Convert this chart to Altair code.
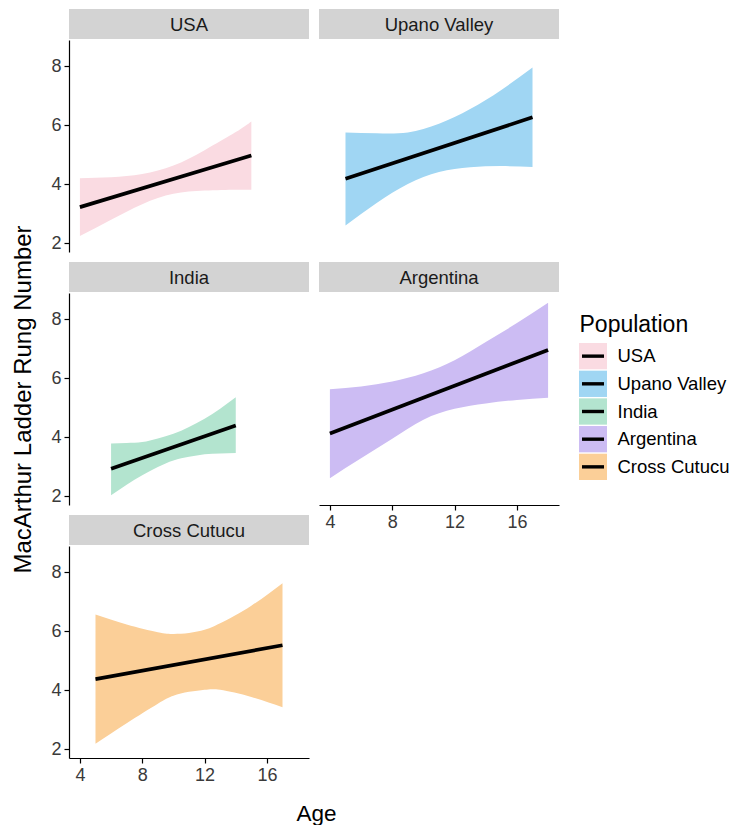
import altair as alt
import pandas as pd

populations = ["USA", "Upano Valley", "India", "Argentina", "Cross Cutucu"]
fill_colors = ["#fadbe2", "#a0d6f3", "#b3e4cf", "#ccbcf3", "#fbcf98"]

# confidence ribbons
usa_age = [4, 6, 8, 10, 12, 14, 15]
usa_lower = [2.25, 2.80, 3.33, 3.68, 3.79, 3.82, 3.82]
usa_upper = [4.21, 4.24, 4.35, 4.64, 5.16, 5.77, 6.13]

upano_age = [5, 7, 9, 11, 13, 15, 17]
upano_lower = [2.61, 3.37, 4.01, 4.42, 4.58, 4.62, 4.59]
upano_upper = [5.76, 5.73, 5.76, 6.05, 6.55, 7.20, 7.96]

india_age = [6, 7, 8, 9, 10, 11, 12, 13, 14]
india_lower = [2.04, 2.40, 2.72, 3.00, 3.22, 3.34, 3.43, 3.45, 3.47]
india_upper = [3.79, 3.81, 3.84, 3.96, 4.12, 4.35, 4.63, 4.97, 5.36]

argentina_age = [4, 6, 8, 10, 12, 14, 16, 18]
argentina_lower = [2.62, 3.29, 3.95, 4.60, 4.97, 5.15, 5.27, 5.34]
argentina_upper = [5.63, 5.72, 5.89, 6.17, 6.61, 7.23, 7.87, 8.56]

cutucu_age = [5, 7, 9, 10, 11, 12, 13, 15, 17]
cutucu_lower = [2.19, 2.89, 3.55, 3.82, 3.95, 4.02, 4.02, 3.78, 3.43]
cutucu_upper = [6.57, 6.23, 5.97, 5.91, 5.94, 6.05, 6.27, 6.87, 7.63]

# fitted lines (start / end)
line_age_start = [4, 5, 6, 4, 5]
line_age_end = [15, 17, 14, 18, 17]
line_fit_start = [3.23, 4.19, 2.94, 4.13, 4.38]
line_fit_end = [4.98, 6.27, 4.40, 6.96, 5.53]

x_ticks = [4, 8, 12, 16]
y_ticks = [2, 4, 6, 8]

FONT = "Liberation Sans"

bands = {
    "USA": (usa_age, usa_lower, usa_upper),
    "Upano Valley": (upano_age, upano_lower, upano_upper),
    "India": (india_age, india_lower, india_upper),
    "Argentina": (argentina_age, argentina_lower, argentina_upper),
    "Cross Cutucu": (cutucu_age, cutucu_lower, cutucu_upper),
}
band_rows = []
for pop, (ages, lo, up) in bands.items():
    for a, l, u in zip(ages, lo, up):
        band_rows.append({"Population": pop, "Age": a, "Lower": l, "Upper": u})
band_df = pd.DataFrame(band_rows)

line_rows = []
for i, pop in enumerate(populations):
    line_rows.append({"Population": pop, "Age": line_age_start[i], "Fit": line_fit_start[i]})
    line_rows.append({"Population": pop, "Age": line_age_end[i], "Fit": line_fit_end[i]})
line_df = pd.DataFrame(line_rows)

W = 240          # panel width
STRIP = 30       # strip height
PLOT_TOP = 31    # plot area starts below the strip
PANEL_H = 243    # strip + plot height

xscale = alt.Scale(domain=[3.3, 18.7], nice=False, zero=False)
yscale = alt.Scale(domain=[1.71, 8.89], nice=False, zero=False, range=[PANEL_H, PLOT_TOP])
color_scale = alt.Scale(domain=populations, range=fill_colors)

axis_common = dict(
    grid=False, domainColor="black", domainWidth=1.2, tickColor="black",
    tickWidth=1.2, tickSize=5, labelFontSize=18, labelColor="#3a3a3a",
    labelPadding=3, labelFlush=False, labelFont=FONT,
)


def make_xaxis(show, title=False):
    if not show:
        return None
    if title:
        return alt.Axis(values=x_ticks, title="Age", titleFontSize=22.5,
                        titleFontWeight="normal", titleColor="black", titleFont=FONT,
                        titleX=247, titleY=62, titleBaseline="alphabetic",
                        titleAlign="center", **axis_common)
    return alt.Axis(values=x_ticks, title=None, **axis_common)


def make_yaxis(show, title=False):
    if not show:
        return None
    if title:
        return alt.Axis(values=y_ticks, title="MacArthur Ladder Rung Number",
                        titleFontSize=24, titleFontWeight="normal", titleColor="black",
                        titleFont=FONT, titlePadding=15, **axis_common)
    return alt.Axis(values=y_ticks, title=None, **axis_common)


def panel(name, show_y, show_x, ytitle=False, xtitle=False):
    xa = make_xaxis(show_x, xtitle)
    ya = make_yaxis(show_y, ytitle)
    bd = band_df[band_df.Population == name]
    ld = line_df[line_df.Population == name]
    nd = pd.DataFrame({"Population": [name]})
    band = alt.Chart(bd).mark_area(interpolate="natural", opacity=1).encode(
        x=alt.X("Age:Q", scale=xscale, axis=xa),
        y=alt.Y("Lower:Q", scale=yscale, axis=ya),
        y2="Upper:Q",
        fill=alt.Fill("Population:N", scale=color_scale, legend=None),
    )
    line = alt.Chart(ld).mark_line(color="black", strokeWidth=3.7).encode(
        x=alt.X("Age:Q", scale=xscale, axis=xa),
        y=alt.Y("Fit:Q", scale=yscale, axis=ya),
    )
    strip_bg = alt.Chart(nd).mark_rect(color="#d3d3d3").encode(
        y=alt.value(0), y2=alt.value(STRIP)
    )
    strip_txt = alt.Chart(nd).mark_text(
        fontSize=18.5, font=FONT, color="#1a1a1a", baseline="middle", align="center"
    ).encode(text="Population:N", x=alt.value(W / 2), y=alt.value(STRIP / 2 + 1))
    return alt.layer(band, line, strip_bg, strip_txt).properties(width=W, height=PANEL_H)


grid = alt.concat(
    panel("USA", True, False),
    panel("Upano Valley", False, False),
    panel("India", True, False, ytitle=True),
    panel("Argentina", False, True),
    panel("Cross Cutucu", True, True, xtitle=True),
    columns=2, spacing=10, bounds="flush",
)

# custom legend: filled squares with a black line and labels
legend_df = pd.DataFrame({"Population": populations})
legend_base = alt.Chart(legend_df).encode(
    y=alt.Y(
        "Population:N", sort=populations,
        scale=alt.Scale(range=[334, 471], paddingInner=0.05, paddingOuter=0),
        axis=alt.Axis(
            orient="right", domain=False, ticks=False, tickSize=0,
            labelFontSize=18.5, labelColor="black", labelPadding=10, labelFont=FONT,
            title="Population", titleAngle=0, titleAlign="left",
            titleBaseline="alphabetic", titleX=-28, titleY=322,
            titleFontSize=23, titleFontWeight="normal", titleColor="black",
            titleFont=FONT,
        ),
    )
)
legend_sw = legend_base.mark_rect().encode(
    fill=alt.Fill("Population:N", scale=color_scale, legend=None)
)
legend_ln = legend_base.mark_tick(orient="horizontal", color="black", size=22,
                                  thickness=3.4, opacity=1)
legend = alt.layer(legend_sw, legend_ln).properties(width=28, height=471)

chart = alt.hconcat(grid, legend, spacing=18).properties(
    padding={"left": 3, "top": 0, "right": 1, "bottom": 0}
).configure(font=FONT).configure_view(stroke="transparent")

chart.save("out.html", embed_options={"renderer": "svg", "actions": False})
